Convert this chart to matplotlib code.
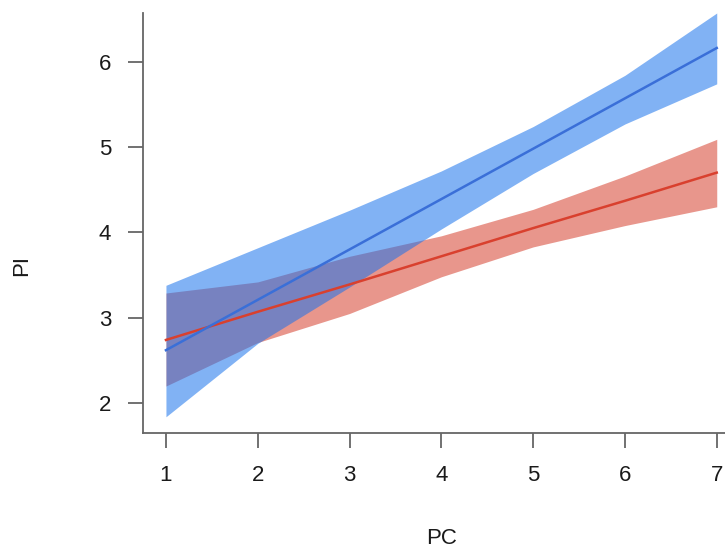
import numpy as np
import matplotlib
matplotlib.use("Agg")
from matplotlib import pyplot as plt

plt.rcParams['font.family'] = ['Liberation Sans', 'DejaVu Sans']

# values
pc = [1, 2, 3, 4, 5, 6, 7]

blue_fit = [2.62, 3.21, 3.80, 4.39, 4.98, 5.57, 6.16]
blue_lo = [1.84, 2.70, 3.36, 4.04, 4.69, 5.27, 5.74]
blue_hi = [3.38, 3.82, 4.26, 4.72, 5.24, 5.84, 6.57]

red_fit = [2.74, 3.07, 3.39, 3.72, 4.05, 4.37, 4.70]
red_lo = [2.20, 2.71, 3.05, 3.48, 3.83, 4.08, 4.30]
red_hi = [3.29, 3.42, 3.72, 3.96, 4.27, 4.66, 5.09]

xticks = [1, 2, 3, 4, 5, 6, 7]
yticks = [2, 3, 4, 5, 6]

fig = plt.figure(figsize=(7.25, 5.51), dpi=100)
ax = fig.add_axes([143/725, 118/551, 582/725, 420/551])

ax.fill_between(pc, red_lo, red_hi, color='#e8968c', lw=0)
ax.plot(pc, red_fit, color='#d9402e', lw=1.8)
ax.fill_between(pc, blue_lo, blue_hi, color='#1a73ec', alpha=0.55, lw=0)
ax.plot(pc, blue_fit, color='#3a6fd8', lw=1.8)

ax.set_xlim(0.75, 7.09)
ax.set_ylim(1.65, 6.57)
ax.set_xticks(xticks)
ax.set_yticks(yticks)

for s in ['top', 'right']:
    ax.spines[s].set_visible(False)
for s in ['left', 'bottom']:
    ax.spines[s].set_color('#666666')
    ax.spines[s].set_linewidth(1.3)

ax.tick_params(axis='both', length=11, width=1.3, color='#666666',
               labelsize=16, labelcolor='#1a1a1a', pad=12)

fig.text(442/725, 1 - 539/551, 'PC', ha='center', va='center',
         fontsize=16, color='#1a1a1a')
fig.text(22/725, 1 - 265/551, 'PI', ha='center', va='center',
         rotation=90, fontsize=16, color='#1a1a1a')

fig.savefig('out.png', dpi=100)
